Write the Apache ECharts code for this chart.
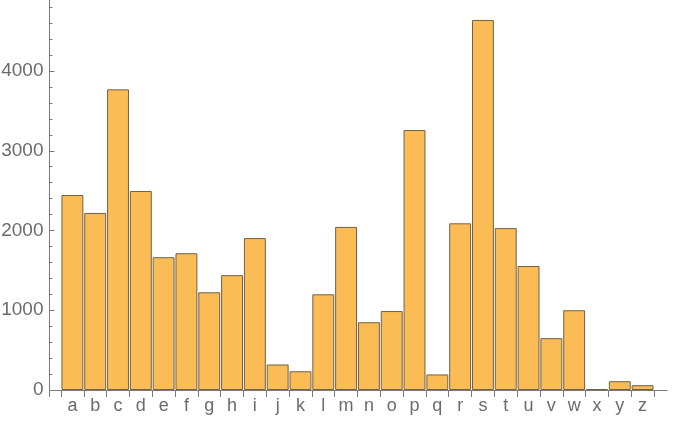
<!DOCTYPE html>
<html><head><meta charset="utf-8">
<script src="https://cdn.jsdelivr.net/npm/echarts@6/dist/echarts.min.js"></script>
<style>html,body{margin:0;padding:0;background:#fff}#c{width:682px;height:422px}</style>
</head><body><div id="c"></div>
<script>
const categories = ['a','b','c','d','e','f','g','h','i','j','k','l','m','n','o','p','q','r','s','t','u','v','w','x','y','z'];
const values = [2445,2220,3770,2495,1665,1715,1225,1440,1905,320,235,1200,2045,850,990,3260,195,2090,4640,2030,1555,650,1000,10,110,60];

const gray = '#6b6b6b';
const lineGray = '#7a7a7a';
const font = '"Liberation Sans", Arial, sans-serif';

const chart = echarts.init(document.getElementById('c'), null, {renderer:'canvas'});
chart.setOption({
  animation: false,
  backgroundColor: '#fff',
  grid: [
    {left: 61, right: 28, top: -8.75, bottom: 32, outerBoundsMode: 'none', containLabel: false},
    {left: 49.5, right: 15, top: -8.75, bottom: 32, outerBoundsMode: 'none', containLabel: false}
  ],
  xAxis: [
    {
      type: 'category', gridIndex: 0, data: categories,
      axisLine: {lineStyle: {color: lineGray, width: 1}},
      axisTick: {show: true, inside: false, length: 7, lineStyle: {color: lineGray}},
      axisLabel: {color: gray, fontSize: 18, fontFamily: font, margin: 7, interval: 0},
      splitLine: {show: false}
    },
    {
      type: 'value', gridIndex: 1, min: 0, max: 1, interval: 1,
      axisLine: {show: true, lineStyle: {color: lineGray, width: 1}},
      axisTick: {show: true, length: 7, customValues: [0], lineStyle: {color: lineGray}},
      axisLabel: {show: false},
      splitLine: {show: false}
    }
  ],
  yAxis: [
    {
      type: 'value', gridIndex: 0, min: 0, max: 5000, interval: 1000, offset: 11.5,
      axisLine: {show: true, lineStyle: {color: lineGray, width: 1}},
      axisTick: {show: true, inside: true, length: 5, lineStyle: {color: lineGray}},
      minorTick: {show: true, splitNumber: 5, length: 3, lineStyle: {color: lineGray}},
      axisLabel: {color: gray, fontSize: 19, fontFamily: font, margin: 6, showMaxLabel: false,
        formatter: function (v) { return String(v); }},
      splitLine: {show: false}
    },
    {
      type: 'value', gridIndex: 1, min: 0, max: 1, show: false
    }
  ],
  series: [
    {
      type: 'bar', xAxisIndex: 0, yAxisIndex: 0, data: values,
      barCategoryGap: '4%',
      itemStyle: {color: '#fcbc55', borderColor: '#6f6048', borderWidth: 1}
    },
    {
      type: 'line', xAxisIndex: 1, yAxisIndex: 1, data: [], silent: true
    }
  ]
});
</script></body></html>
